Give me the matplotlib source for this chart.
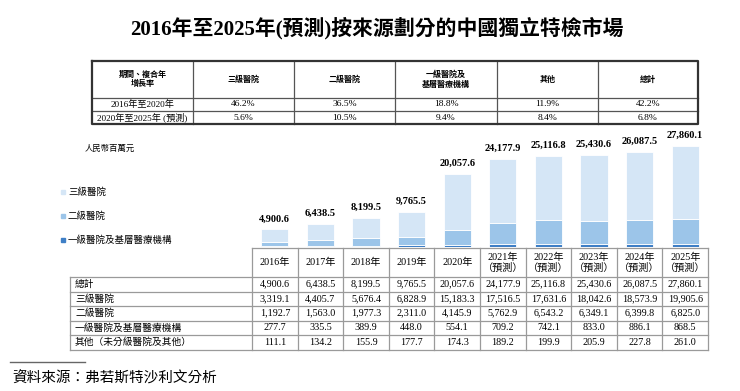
import numpy as np
import matplotlib
matplotlib.use('Agg')
import matplotlib.pyplot as plt

plt.rcParams['font.family'] = ['Liberation Serif', 'Noto Sans CJK TC']

# 數據
years = ['2016年', '2017年', '2018年', '2019年', '2020年',
         '2021年\n（預測）', '2022年\n（預測）', '2023年\n（預測）', '2024年\n（預測）', '2025年\n（預測）']
total = [4900.6, 6438.5, 8199.5, 9765.5, 20057.6, 24177.9, 25116.8, 25430.6, 26087.5, 27860.1]
tertiary = [3319.1, 4405.7, 5676.4, 6828.9, 15183.3, 17516.5, 17631.6, 18042.6, 18573.9, 19905.6]
secondary = [1192.7, 1563.0, 1977.3, 2311.0, 4145.9, 5762.9, 6543.2, 6349.1, 6399.8, 6825.0]
primary = [277.7, 335.5, 389.9, 448.0, 554.1, 709.2, 742.1, 833.0, 886.1, 868.5]
others = [111.1, 134.2, 155.9, 177.7, 174.3, 189.2, 199.9, 205.9, 227.8, 261.0]

row_labels = ['總計', '三級醫院', '二級醫院', '一級醫院及基層醫療機構', '其他（未分級醫院及其他）']
legend_labels = ['三級醫院', '二級醫院', '一級醫院及基層醫療機構']

cagr_header = ['期間、複合年\n增長率', '三級醫院', '二級醫院', '一級醫院及\n基層醫療機構', '其他', '總計']
cagr_periods = ['2016年至2020年', '2020年至2025年 (預測)']
cagr_1620 = ['46.2%', '36.5%', '18.8%', '11.9%', '42.2%']
cagr_2025 = ['5.6%', '10.5%', '9.4%', '8.4%', '6.8%']

c_light = '#d5e6f6'
c_mid = '#9cc5e9'
c_dark = '#3f7fc6'

W, H = 740, 391
fig = plt.figure(figsize=(W / 100, H / 100), dpi=100)

# 畫布座標(像素)
ax0 = fig.add_axes([0, 0, 1, 1])
ax0.set_xlim(0, W)
ax0.set_ylim(H, 0)
ax0.axis('off')

ax0.text(377, 28, '2016年至2025年(預測)按來源劃分的中國獨立特檢市場', ha='center', va='center',
         fontsize=15, fontweight='bold')

# 上方複合年增長率表
cx = [92, 193, 294, 395, 497, 598, 698]
ry = [61, 98, 111, 124]
for x in cx[1:-1]:
    ax0.plot([x, x], [ry[0], ry[-1]], color='#555555', lw=0.9)
for y in ry[1:-1]:
    ax0.plot([cx[0], cx[-1]], [y, y], color='#555555', lw=0.9)
ax0.plot([cx[0], cx[-1], cx[-1], cx[0], cx[0]], [ry[0], ry[0], ry[-1], ry[-1], ry[0]],
         color='#333333', lw=1.6)
for i, lab in enumerate(cagr_header):
    ax0.text((cx[i] + cx[i + 1]) / 2, (ry[0] + ry[1]) / 2, lab, ha='center', va='center',
             fontsize=5.8, fontweight='bold', linespacing=1.3)
for r, (per, vals) in enumerate(zip(cagr_periods, [cagr_1620, cagr_2025])):
    yc = (ry[r + 1] + ry[r + 2]) / 2
    ax0.text((cx[0] + cx[1]) / 2, yc, per, ha='center', va='center', fontsize=6.6)
    for i, v in enumerate(vals):
        ax0.text((cx[i + 1] + cx[i + 2]) / 2, yc, v, ha='center', va='center', fontsize=6.8)

# 柱狀圖
tx0, tx1 = 252, 708
base_y = 247
ax = fig.add_axes([tx0 / W, (H - base_y) / H, (tx1 - tx0) / W, (base_y - 135) / H])
x = np.arange(len(years))
bw = 0.6
b1 = np.array(primary)
b2 = b1 + np.array(secondary)
ax.bar(x, primary, width=bw, color=c_dark, edgecolor='white', linewidth=0.6)
ax.bar(x, secondary, width=bw, bottom=b1, color=c_mid, edgecolor='white', linewidth=0.6)
ax.bar(x, tertiary, width=bw, bottom=b2, color=c_light, edgecolor='white', linewidth=0.6)
for xi, t in zip(x, total):
    ax.annotate(f'{t:,.1f}', (xi, t), xytext=(0, 4), textcoords='offset points',
                ha='center', va='bottom', fontsize=7.5, fontweight='bold')
ax.set_xlim(-0.5, len(years) - 0.5)
ax.set_ylim(0, 30600)
ax.axis('off')

# 圖例
ax0.text(85, 149, '人民幣百萬元', ha='left', va='center', fontsize=6)
for lab, col, ly in zip(legend_labels, [c_light, c_mid, c_dark], [192, 216, 240]):
    ax0.plot(63, ly, 's', ms=2.8, color=col)
    ax0.text(68, ly, lab, ha='left', va='center', fontsize=6.8)

# 下方數據表
cw = (tx1 - tx0) / len(years)
bx = [tx0 + i * cw for i in range(len(years) + 1)]
by = [248, 277, 291.5, 306, 320.5, 335, 349.5]
lc = '#9a9a9a'
for xx in bx:
    ax0.plot([xx, xx], [by[0], by[-1]], color=lc, lw=0.9)
ax0.plot([70, 70], [by[1], by[-1]], color=lc, lw=0.9)
ax0.plot([tx0, tx1], [by[0], by[0]], color=lc, lw=0.9)
for y in by[1:]:
    ax0.plot([70, tx1], [y, y], color=lc, lw=0.9)
for i, yr in enumerate(years):
    ax0.text((bx[i] + bx[i + 1]) / 2, (by[0] + by[1]) / 2, yr, ha='center', va='center',
             fontsize=7.3, linespacing=1.1)
for r, (lab, vals) in enumerate(zip(row_labels, [total, tertiary, secondary, primary, others])):
    yc = (by[r + 1] + by[r + 2]) / 2
    ax0.text(75, yc, lab, ha='left', va='center', fontsize=7)
    for i, v in enumerate(vals):
        ax0.text((bx[i] + bx[i + 1]) / 2, yc, f'{v:,.1f}', ha='center', va='center', fontsize=7.3)

# 資料來源
ax0.plot([10, 85], [362, 362], color='#666666', lw=1)
ax0.text(12, 378, '資料來源：弗若斯特沙利文分析', ha='left', va='center', fontsize=10.5,
         family=['Noto Sans CJK TC'])

fig.savefig('out.png', dpi=100)
